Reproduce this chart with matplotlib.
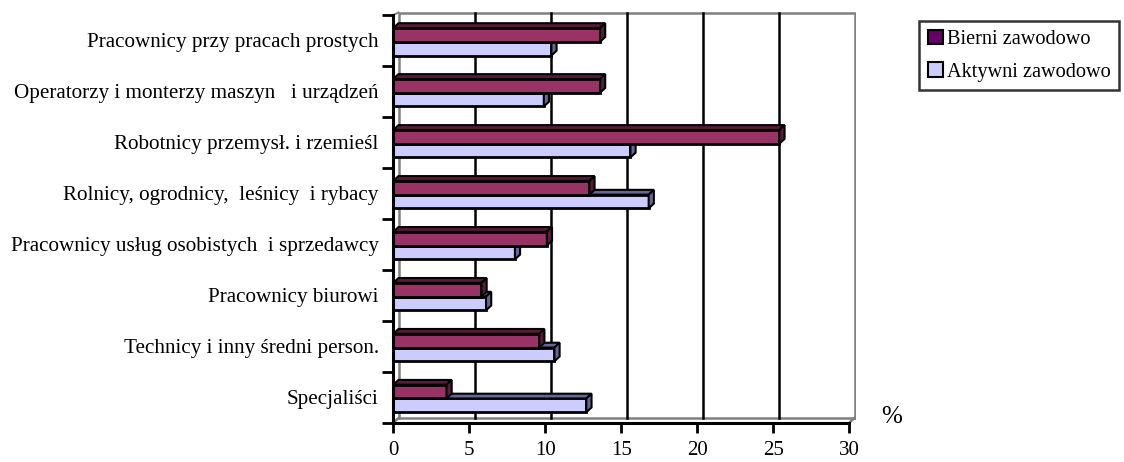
import matplotlib
matplotlib.use("Agg")
import matplotlib.pyplot as plt
from matplotlib.patches import Polygon, Rectangle, Patch

plt.rcParams['font.family'] = ['Liberation Serif', 'DejaVu Serif']

# categories from bottom to top
kategorie = ["Specjaliści",
             "Technicy i inny średni person.",
             "Pracownicy biurowi",
             "Pracownicy usług osobistych  i sprzedawcy",
             "Rolnicy, ogrodnicy,  leśnicy  i rybacy",
             "Robotnicy przemysł. i rzemieśl",
             "Operatorzy i monterzy maszyn   i urządzeń",
             "Pracownicy przy pracach prostych"]
bierni = [3.5, 9.6, 5.8, 10.1, 12.9, 25.4, 13.6, 13.6]
aktywni = [12.7, 10.6, 6.1, 8.0, 16.8, 15.6, 9.9, 10.4]
xticks = [0, 5, 10, 15, 20, 25, 30]

kol_b = "#993366"
kol_a = "#CCCCFF"
bok_b = "#5a1a3a"
bok_a = "#666699"

fig = plt.figure(figsize=(11.24, 4.62), dpi=100)
W, H = 1124, 462
x0, x30 = 393.3, 849.3
ybot, ytop = 422.7, 10.0
px_x = (x30 - x0) / 30.0
px_y = (ybot - 15.0) / 8.0
ax = fig.add_axes([x0 / W, (H - ybot) / H, (856 - x0) / W, (ybot - ytop) / H])
ax.set_xlim(0, (856 - x0) / px_x)
ax.set_ylim(0, (ybot - ytop) / px_y)
for s in ax.spines.values():
    s.set_visible(False)

dx = 5.2 / px_x   # 3d depth
dy = 4.8 / px_y
wall_top = (ybot - 12.5) / px_y
gray = "#808080"

# back wall
ax.plot([dx, dx, 30 + dx, 30 + dx], [dy, wall_top, wall_top, dy], color=gray, lw=1.8, zorder=1)
ax.plot([dx, 30 + dx], [dy, dy], color=gray, lw=1.8, zorder=1)
ax.plot([30, 30 + dx], [0, dy], color=gray, lw=1.8, zorder=1)
ax.plot([0, dx], [0, dy], color=gray, lw=1.8, zorder=1)
ax.plot([0, dx], [8, wall_top], color=gray, lw=1.4, zorder=1)
for g in xticks[1:-1]:
    ax.plot([g + dx, g + dx], [dy, wall_top], color="black", lw=1.8, zorder=1)


def bar3d(v, b, h, face, side):
    ax.add_patch(Rectangle((0, b), v, h, facecolor=face, edgecolor="black", lw=2.0, zorder=3))
    top = [(0, b + h), (dx, b + h + dy), (v + dx, b + h + dy), (v, b + h)]
    ax.add_patch(Polygon(top, closed=True, facecolor=side, edgecolor="black", lw=1.5, zorder=3))
    sd = [(v, b), (v + dx, b + dy), (v + dx, b + h + dy), (v, b + h)]
    ax.add_patch(Polygon(sd, closed=True, facecolor=side, edgecolor="black", lw=1.5, zorder=3))


h = 0.27
for i in range(len(kategorie)):
    bar3d(aktywni[i], i + 0.205, h, kol_a, bok_a)
    bar3d(bierni[i], i + 0.205 + h, h, kol_b, bok_b)

# front axes
ax.plot([0, 30], [0, 0], color="black", lw=2.2, clip_on=False, zorder=4)
ax.plot([0, 0], [0, 8], color="black", lw=2.2, clip_on=False, zorder=4)

ax.set_xticks(xticks)
ax.set_xticklabels([str(t) for t in xticks])
ax.tick_params(axis="x", length=7.5, width=2, pad=6, labelsize=15)
ax.set_yticks([i + 0.5 for i in range(len(kategorie))])
ax.set_yticklabels(kategorie)
ax.set_yticks(range(len(kategorie) + 1), minor=True)
ax.tick_params(axis="y", which="major", length=0, pad=10.5, labelsize=15.2)
ax.tick_params(axis="y", which="minor", length=8, width=2)

fig.text(892 / W, (H - 417) / H, "%", fontsize=18, ha="center", va="center")

handles = [Patch(facecolor="#660066", edgecolor="black", lw=1.5),
           Patch(facecolor=kol_a, edgecolor="black", lw=1.5)]
leg = fig.legend(handles, ["Bierni zawodowo", "Aktywni zawodowo"], loc="upper left",
                 bbox_to_anchor=(919 / W, (H - 21) / H), fontsize=14.6, frameon=True,
                 fancybox=False, handlelength=0.75, handleheight=0.75, handletextpad=0.2,
                 borderpad=0.42, labelspacing=0.65, borderaxespad=0)
leg.get_frame().set_edgecolor("black")
leg.get_frame().set_linewidth(1.8)

fig.savefig("out.png", dpi=100)
